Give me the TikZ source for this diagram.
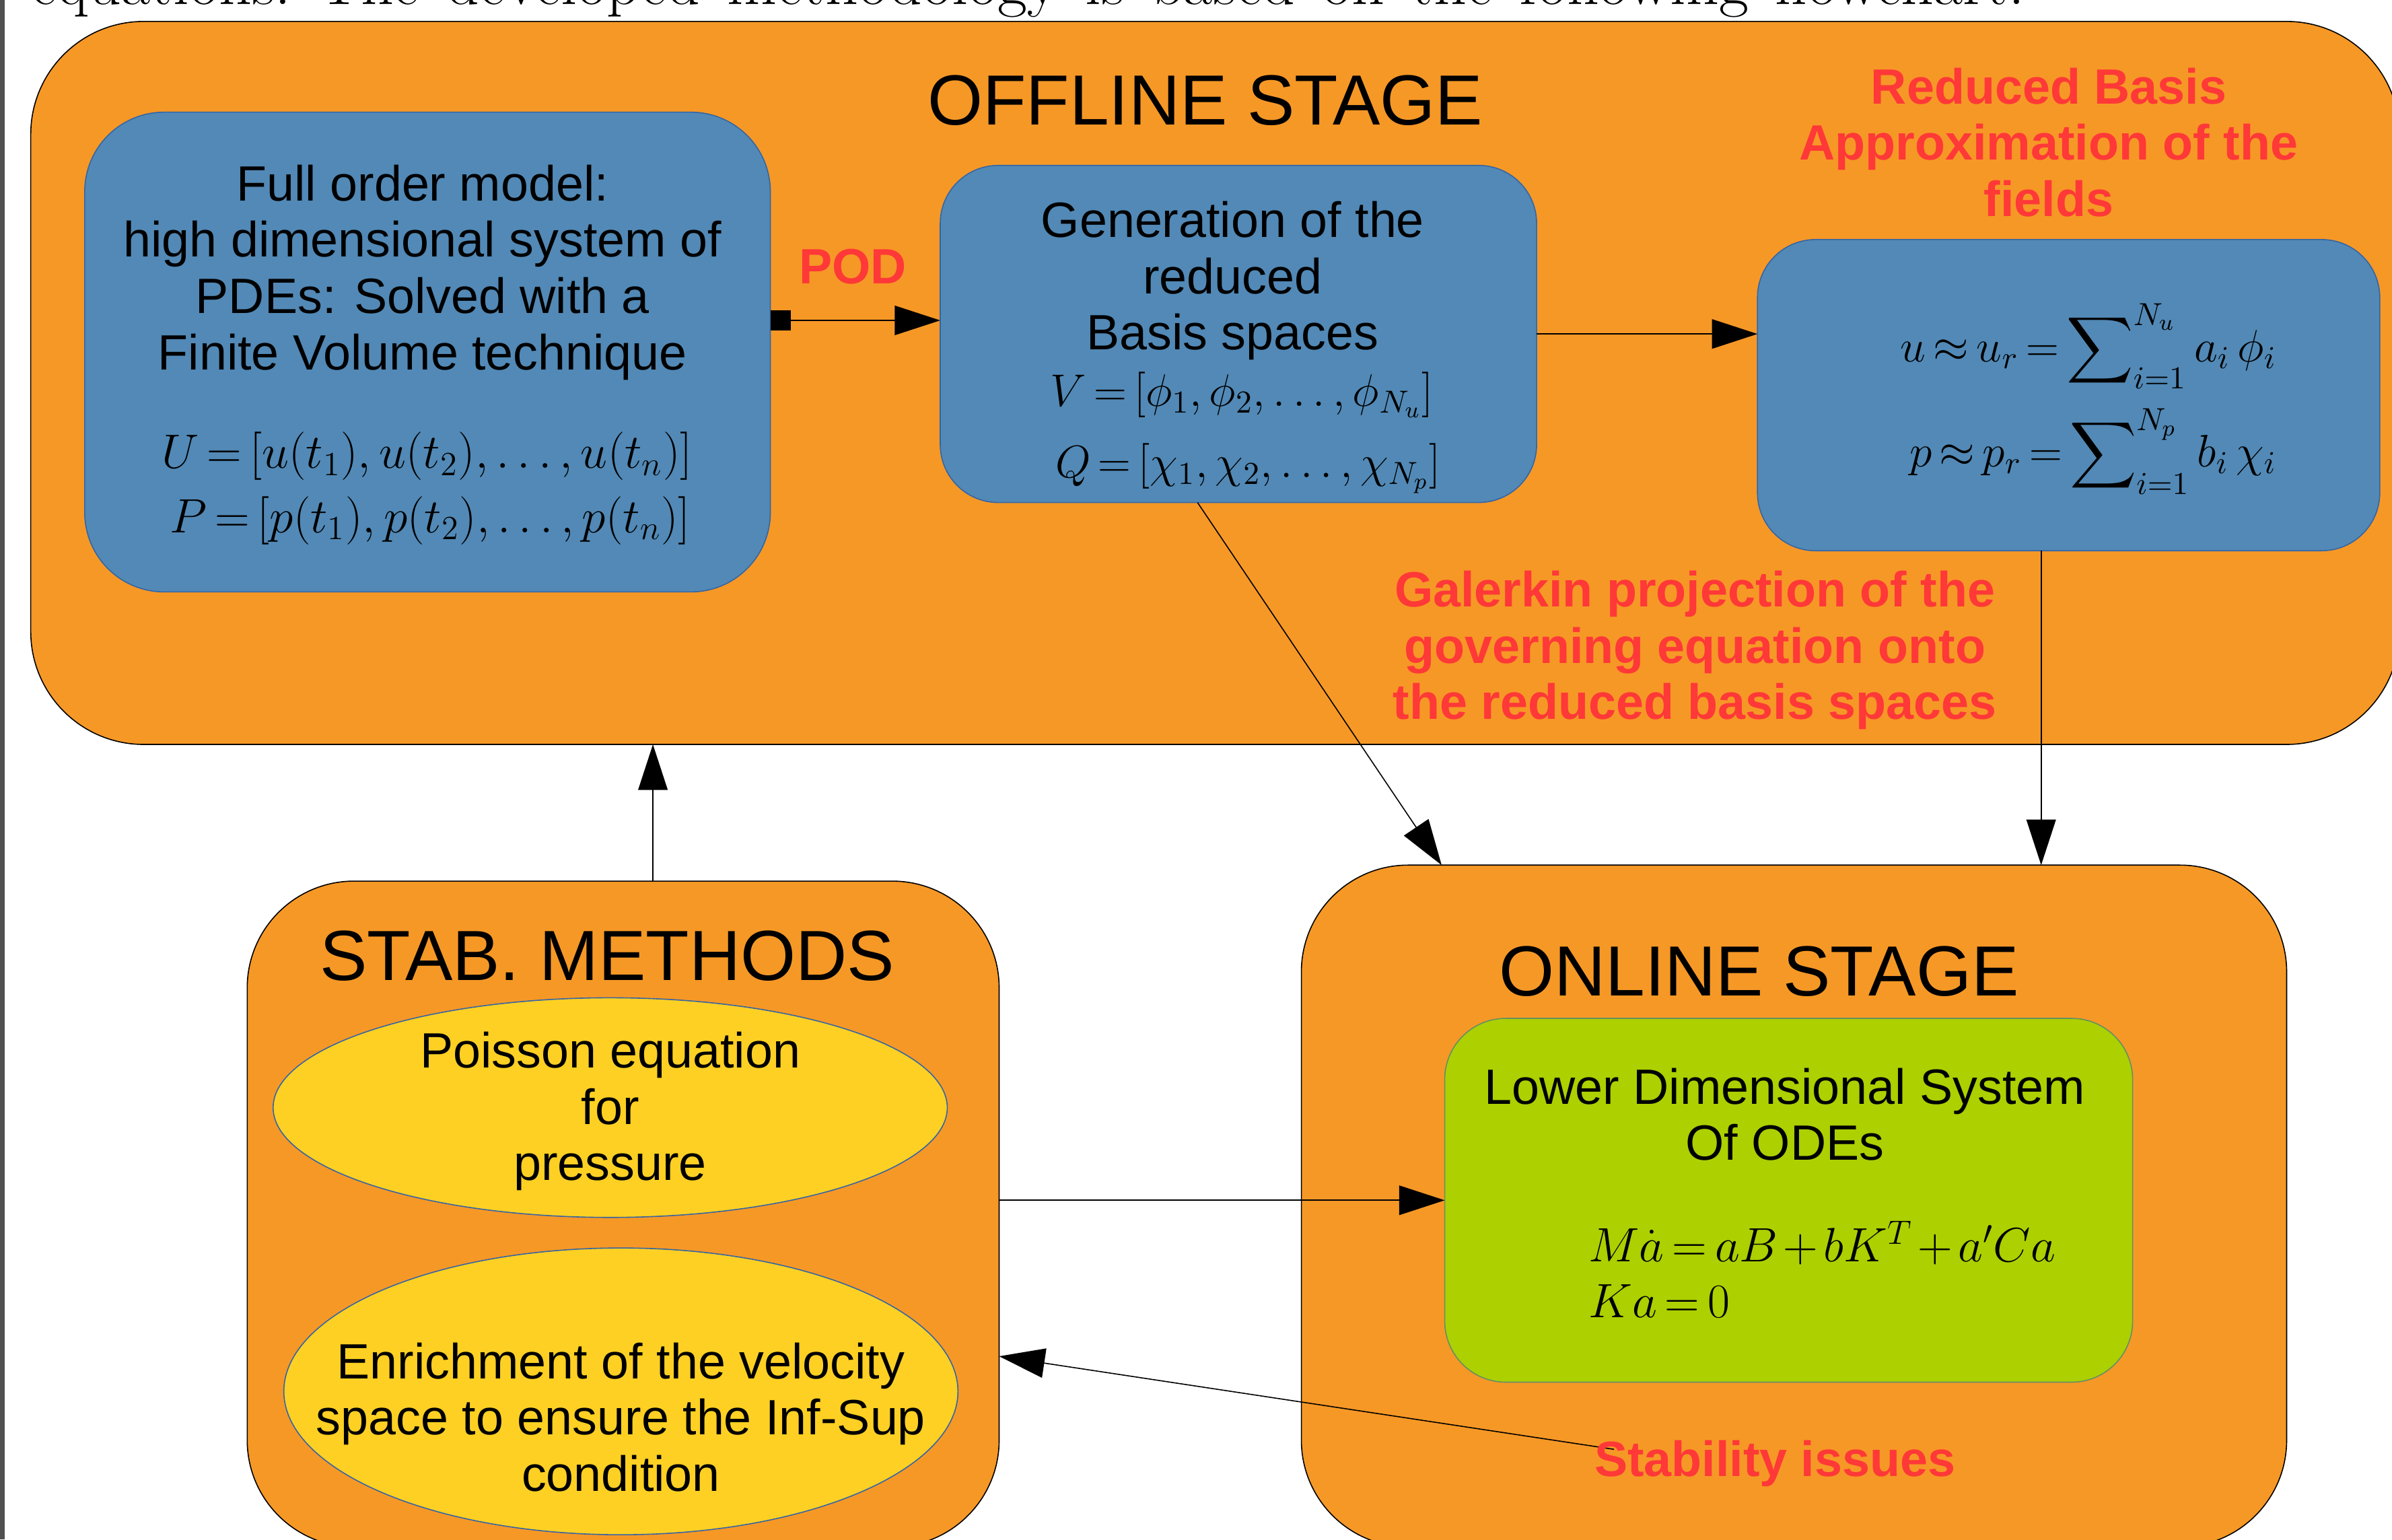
\RequirePackage{fix-cm}
\documentclass[tikz,border=0pt]{standalone}
\usepackage{amsmath}
\usepackage{fontspec}
\newfontfamily\lib{Liberation Sans}
\usetikzlibrary{arrows.meta,shapes.geometric}
\definecolor{orangeC}{RGB}{246,152,38}
\definecolor{blueC}{RGB}{82,137,182}
\definecolor{blueL}{RGB}{52,101,164}
\definecolor{yellowC}{RGB}{253,208,35}
\definecolor{greenC}{RGB}{172,208,0}
\definecolor{redC}{RGB}{255,56,56}
\definecolor{barC}{RGB}{80,80,80}
\newcommand\mlines[1]{\begin{tabular}[t]{@{}c@{}}#1\end{tabular}}
\begin{document}
\begin{tikzpicture}[x=0.02cm,y=-0.02cm,
  stage/.style={fill=orangeC,draw=black,line width=0.4pt,inner sep=0pt,outer sep=0pt},
  bbox/.style={fill=blueC,draw=blueL,line width=0.4pt,inner sep=0pt,outer sep=0pt},
  gbox/.style={fill=greenC,draw=blueL!60!greenC,line width=0.4pt,inner sep=0pt,outer sep=0pt},
  ell/.style={ellipse,fill=yellowC,draw=blueL,line width=0.4pt,inner sep=0pt,outer sep=0pt},
  lbl/.style={anchor=base,inner sep=0pt,font={\lib\fontsize{18.5}{21}\selectfont}},
  redlbl/.style={lbl,text=redC,font={\lib\bfseries\fontsize{18.5}{21}\selectfont}},
  title/.style={anchor=base,inner sep=0pt,font={\lib\fontsize{26.5}{30}\selectfont}},
  mth/.style={anchor=base,inner sep=0pt,font={\fontsize{#1}{21}\selectfont\thickmuskip=3mu\medmuskip=2mu}},
  mth/.default=18,
  arr/.style={draw=black,line width=0.4pt,-{Triangle[length=17pt,width=11pt]}}]
\useasboundingbox (0,0) rectangle (1568,1009);
\begin{scope}
\clip (0,0) rectangle (1568,1009);
\fill[white] (0,0) rectangle (1568,1009);
% clipped line of text above the chart
\node[anchor=base west,inner sep=0pt,font={\fontsize{24}{28}\selectfont\frenchspacing}] (toptext) at (20,3)
  {\makebox[743.9pt][s]{equations. The developed methodology is based on the following flowchart.}};
% OFFLINE STAGE
\node[stage,rounded corners=1.48cm,minimum width=31.06cm,minimum height=9.48cm] (offline) at (796.5,251) {};
\node[title] (offt) at (790,82) {OFFLINE STAGE};
% full order model
\node[bbox,rounded corners=1.04cm,minimum width=8.99cm,minimum height=6.29cm] (fom) at (280.25,230.75) {};
\node[lbl] (fomt) at (277,131.6) {\mlines{Full order model:\\high dimensional system of\\PDEs: Solved with a\\Finite Volume technique}};
\node[mth] (fomU) at (280,306.8) {$U=[u(t_1),u(t_2),\ldots,u(t_n)]$};
\node[mth] (fomP) at (282,349) {$P=[p(t_1),p(t_2),\ldots,p(t_n)]$};
% generation box
\node[bbox,rounded corners=0.76cm,minimum width=7.82cm,minimum height=4.42cm] (gen) at (811.8,218.9) {};
\node[lbl] (gent) at (808,155.6) {\mlines{Generation of the\\reduced\\Basis spaces}};
\node[mth=17] (genV) at (814,266.3) {$V=[\phi_1,\phi_2,\ldots,\phi_{N_u}]$};
\node[mth=17] (genQ) at (818,313) {$Q=[\chi_1,\chi_2,\ldots,\chi_{N_p}]$};
% reduced basis
\node[redlbl] (rbt) at (1343,68) {\mlines{Reduced Basis\\Approximation of the\\fields}};
\node[bbox,rounded corners=0.76cm,minimum width=8.16cm,minimum height=4.08cm] (rb) at (1356,259) {};
\node[mth=17] (rbu) at (1369,237) {$u\approx u_r=\displaystyle\sum\nolimits_{i=1}^{N_u} a_i\,\phi_i$};
\node[mth=17] (rbp) at (1372,306) {$p\approx p_r=\displaystyle\sum\nolimits_{i=1}^{N_p} b_i\,\chi_i$};
% POD
\node[redlbl] (pod) at (559,186) {POD};
\node[redlbl] (gal) at (1111,397.8) {\mlines{Galerkin projection of the\\governing equation onto\\the reduced basis spaces}};
% STAB. METHODS
\node[stage,rounded corners=1.4cm,minimum width=9.86cm,minimum height=8.73cm] (stab) at (408.5,795.75) {};
\node[title] (stabt) at (398,642.7) {STAB. METHODS};
\node[ell,minimum width=8.84cm,minimum height=2.88cm] (ell1) at (400,726) {};
\node[lbl] (ell1t) at (400,700) {\mlines{Poisson equation\\for\\pressure}};
\node[ell,minimum width=8.84cm,minimum height=3.76cm] (ell2) at (407,912) {};
\node[lbl] (ell2t) at (407,903.7) {\mlines{Enrichment of the velocity\\space to ensure the Inf-Sup\\condition}};
% ONLINE STAGE
\node[stage,rounded corners=1.4cm,minimum width=12.92cm,minimum height=8.94cm] (online) at (1176,790.5) {};
\node[title] (onlt) at (1153,652.8) {ONLINE STAGE};
\node[gbox,rounded corners=0.8cm,minimum width=9.02cm,minimum height=4.77cm] (green) at (1172.5,786.75) {};
\node[lbl] (greent) at (1170,723.6) {\mlines{Lower Dimensional System\\Of ODEs}};
\node[mth,anchor=base west] (gm1) at (1041,827) {$M\dot a=aB+bK^T+a'Ca$};
\node[mth,anchor=base west] (gm2) at (1041,863.5) {$Ka=0$};
% connectors
\coordinate (podY) at (0,210);
\draw[draw=black,line width=0.4pt,{Square[length=7.7pt,width=7.7pt]}-{Triangle[length=17pt,width=11pt]}] (fom.east |- podY) -- (gen.west |- podY);
\draw[arr] (gen.east) -- (gen.east -| rb.west);
\coordinate (cx1) at (785,0);
\coordinate (cx2) at (945,0);
\draw[arr] (cx1 |- gen.south) -- (cx2 |- online.north);
\coordinate (cx3) at (1338,0);
\draw[arr] (cx3 |- rb.south) -- (cx3 |- online.north);
\coordinate (cx4) at (428,0);
\draw[arr] (cx4 |- stab.north) -- (cx4 |- offline.south);
\draw[arr] (stab.east |- green.west) -- (green.west);
\coordinate (sitail) at (1058,950);
\coordinate (cy) at (0,889);
\draw[arr] (sitail) -- (stab.east |- cy);
\node[redlbl] (stabiss) at (1163.5,967.7) {Stability issues};
% left bar
\fill[barC] (0,0) rectangle (3,1009);
\end{scope}
\end{tikzpicture}
\end{document}
